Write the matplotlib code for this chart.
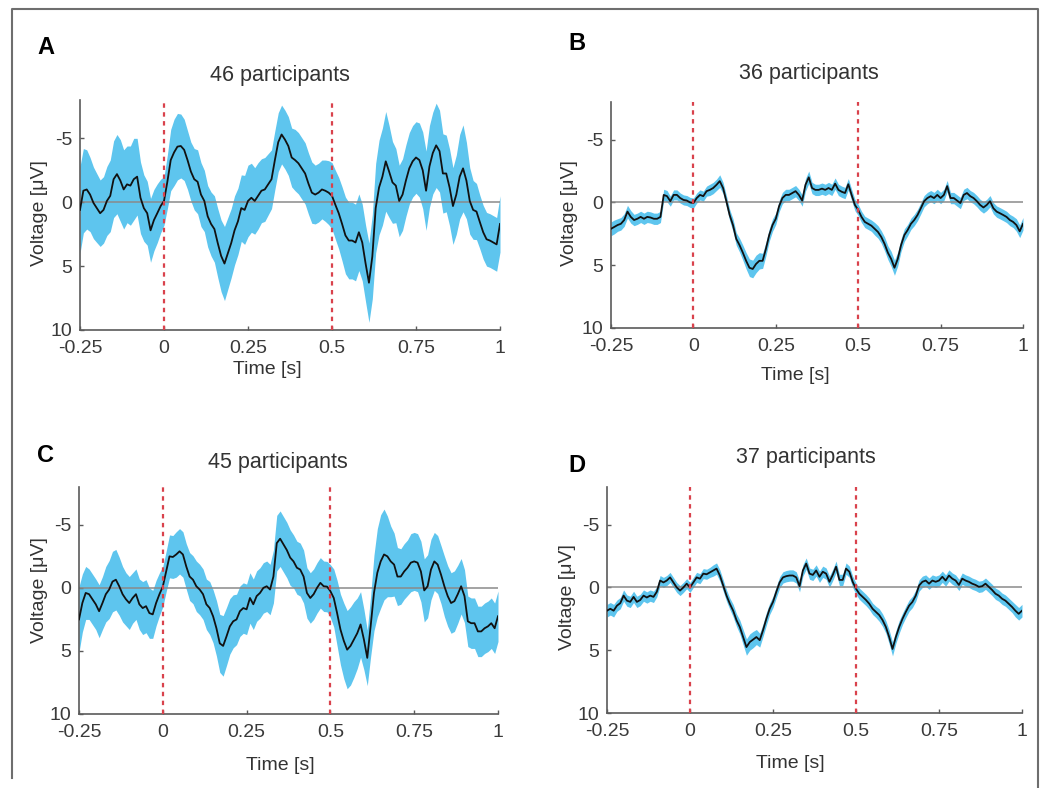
import numpy as np
import matplotlib.pyplot as plt
from matplotlib.lines import Line2D

plt.rcParams['font.family'] = ['Liberation Sans', 'DejaVu Sans']

# time axis: -0.25 .. 1.00 s in 10 ms steps
t = np.round(np.arange(-0.25, 1.0001, 0.01), 2)

# panel A (46 participants): mean voltage and half-width of shaded band
mean_a = [0.6, -0.9, -1.0, -0.6, 0.05, 0.46, 0.86, 0.6, -0.1, -0.5,
          -1.8, -2.2, -1.7, -1.0, -1.4, -1.3, -1.8, -2.0, -0.35, 0.46,
          0.86, 2.2, 1.4, 0.86, 0.3,
          -0.1, -1.6, -3.3, -3.9, -4.35, -4.4, -4.1, -3.3, -2.4, -1.8,
          -1.6, -0.6, -0.1, 1.1, 1.7, 2.1, 3.2, 4.2, 4.8, 4.0,
          3.2, 2.2, 1.5, 0.46, 0.6, -0.1, -0.35, -0.1, -0.5, -0.9,
          -1.0, -1.4, -1.8, -3.3, -4.7, -5.3, -4.9, -4.4,
          -3.5, -3.3, -3.05, -2.65, -2.25, -1.45, -0.75, -0.6, -0.75, -1.0,
          -0.9, -0.75, -0.5, 0.2, 0.86, 1.7, 2.6, 3.0, 3.0, 3.15,
          2.35, 3.15, 4.8, 6.3, 4.25, 0.46, -1.15, -2.0, -3.2, -2.4,
          -1.55, -1.3, -0.1, -0.6, -1.7, -2.65, -3.2, -3.5, -3.3, -2.5,
          -0.9, -2.8, -3.85, -4.45, -4.0, -2.25, -2.25, -1.15, 0.3, -0.6,
          -2.0, -2.65, -1.7, -0.1, 0.6, 0.73, 1.55, 2.35, 2.9, 3.0,
          3.15, 3.3, 1.7]
sem_a = [3.4, 3.3, 3.1, 2.9, 2.8, 2.7, 2.6, 2.6, 2.7, 2.8,
         3.0, 3.1, 3.2, 3.1, 3.0, 3.1, 3.2, 3.0, 2.8, 2.6,
         2.5, 2.5, 2.4, 2.3, 2.1,
         1.9, 2.1, 2.4, 2.6, 2.6, 2.5, 2.4, 2.3, 2.3, 2.4,
         2.5, 2.5, 2.4, 2.4, 2.5, 2.6, 2.7, 2.8, 2.9, 2.8,
         2.7, 2.7, 2.6, 2.6, 2.7, 2.8, 2.7, 2.6, 2.6, 2.5,
         2.5, 2.4, 2.3, 2.3, 2.3, 2.3, 2.3, 2.3,
         2.3, 2.4, 2.4, 2.4, 2.4, 2.4, 2.4, 2.3, 2.3, 2.3,
         2.4, 2.5, 2.6, 2.7, 2.8, 2.9, 3.0, 3.0, 3.0, 3.0,
         3.0, 3.0, 3.0, 3.1, 3.3, 3.5, 3.7, 3.8, 3.9, 3.6,
         3.2, 2.9, 2.8, 2.8, 2.8, 2.8, 2.8, 2.8, 2.9, 3.0,
         3.1, 3.2, 3.2, 3.3, 3.2, 3.1, 3.0, 3.0, 3.0, 3.1,
         3.3, 3.4, 3.0, 2.6, 2.3, 2.2, 2.1, 2.1, 2.1, 2.1,
         2.1, 2.1, 2.2]

# panel B (36 participants)
mean_b = [2.1, 1.95, 1.8, 1.7, 1.4, 0.73, 1.15, 1.4, 1.3, 1.15,
          1.3, 1.15, 1.2, 1.3, 1.3, 1.15, -0.6, -0.5, -0.1, -0.6,
          -0.6, -0.35, -0.2, -0.15, 0.0,
          0.05, -0.35, -0.6, -0.5, -0.9, -1.0, -1.15, -1.4, -1.7, -1.15,
          -0.1, 1.0, 1.8, 2.9, 3.4, 4.0, 4.65, 5.2, 5.3, 4.9,
          4.65, 4.65, 3.7, 2.6, 1.8, 1.3, 0.3, -0.35, -0.6, -0.6,
          -0.75, -0.9, -0.6, -0.15, -1.4, -2.0, -1.15, -1.0,
          -1.0, -1.1, -1.0, -1.15, -1.0, -1.5, -1.0, -0.85, -0.75, -1.45,
          -0.6, 0.2, 0.6, 1.15, 1.55, 1.7, 1.85, 2.1, 2.35, 2.75,
          3.3, 4.0, 4.5, 5.2, 4.5, 3.4, 2.6, 2.2, 1.7, 1.4,
          1.0, 0.46, -0.1, -0.35, -0.5, -0.35, -0.6, -0.35, -0.6, -1.3,
          -0.35, -0.35, -0.15, 0.05, -0.6, -0.75, -0.5, -0.35, -0.1, 0.2,
          0.4, 0.2, -0.1, 0.46, 0.73, 0.86, 1.0, 1.15, 1.4, 1.55,
          1.8, 2.3, 1.7]
sem_b = [0.55, 0.55, 0.5, 0.5, 0.5, 0.5, 0.5, 0.45, 0.45, 0.45,
         0.45, 0.45, 0.45, 0.45, 0.45, 0.45, 0.45, 0.45, 0.4, 0.4,
         0.4, 0.4, 0.4, 0.4, 0.4,
         0.4, 0.4, 0.4, 0.4, 0.4, 0.45, 0.45, 0.45, 0.5, 0.45,
         0.45, 0.45, 0.5, 0.5, 0.55, 0.6, 0.65, 0.7, 0.7, 0.7,
         0.65, 0.6, 0.55, 0.5, 0.5, 0.45, 0.45, 0.45, 0.45, 0.45,
         0.45, 0.45, 0.45, 0.45, 0.5, 0.5, 0.45, 0.45,
         0.45, 0.45, 0.45, 0.45, 0.45, 0.45, 0.45, 0.45, 0.45, 0.45,
         0.45, 0.45, 0.45, 0.45, 0.45, 0.45, 0.45, 0.5, 0.5, 0.5,
         0.55, 0.55, 0.6, 0.6, 0.55, 0.5, 0.5, 0.45, 0.45, 0.45,
         0.45, 0.45, 0.45, 0.45, 0.45, 0.45, 0.45, 0.45, 0.45, 0.45,
         0.45, 0.45, 0.45, 0.45, 0.45, 0.45, 0.45, 0.45, 0.45, 0.45,
         0.45, 0.45, 0.45, 0.45, 0.45, 0.45, 0.45, 0.45, 0.45, 0.45,
         0.5, 0.5, 0.5]

# panel C (45 participants)
mean_c = [2.5, 1.2, 0.4, 0.5, 0.9, 1.3, 1.85, 1.2, 0.5, 0.13,
          -0.5, -0.65, -0.13, 0.5, 0.9, 1.2, 0.8, 0.5, 1.3, 1.6,
          1.45, 2.0, 2.1, 1.2, 0.5,
          -0.1, -1.3, -2.5, -2.45, -2.65, -2.9, -2.65, -1.7, -0.9, -0.65,
          -0.13, 0.13, 0.5, 1.3, 1.6, 2.25, 3.2, 4.4, 4.6, 3.85,
          3.05, 2.65, 2.5, 1.85, 1.6, 1.7, 0.8, 1.3, 0.65, 0.4,
          0.0, -0.13, 0.13, -0.9, -3.55, -3.9, -3.45, -3.0,
          -2.4, -2.1, -1.6, -1.45, -0.9, 0.4, 0.8, 0.5, 0.0, -0.4,
          -0.13, -0.1, 0.26, 0.8, 2.0, 3.3, 4.2, 4.9, 4.6, 4.1,
          3.6, 2.9, 4.1, 5.55, 3.05, 0.4, -1.2, -2.1, -2.65, -2.5,
          -2.1, -1.85, -0.9, -0.9, -1.3, -1.6, -2.0, -2.1, -2.0, -1.3,
          0.2, -0.13, -1.45, -2.1, -1.85, -1.05, -0.13, 0.65, 1.2, 1.05,
          0.5, -0.13, 0.65, 2.65, 2.8, 2.8, 3.45, 3.45, 3.2, 3.05,
          2.8, 3.2, 2.25]
sem_c = [2.6, 2.3, 2.1, 2.0, 2.0, 2.0, 2.1, 2.1, 2.2, 2.3,
         2.4, 2.4, 2.3, 2.2, 2.1, 2.1, 2.0, 2.0, 2.0, 2.1,
         2.1, 2.0, 1.9, 1.8, 1.7,
         1.6, 1.6, 1.7, 1.7, 1.8, 1.8, 1.8, 1.8, 1.9, 1.9,
         2.0, 2.0, 2.0, 2.0, 2.1, 2.1, 2.2, 2.3, 2.4, 2.3,
         2.2, 2.1, 2.0, 2.0, 2.0, 2.0, 2.0, 2.0, 2.0, 2.0,
         2.0, 2.0, 2.0, 2.1, 2.2, 2.2, 2.2, 2.2,
         2.2, 2.1, 2.1, 2.1, 2.1, 2.0, 2.0, 2.0, 2.0, 2.0,
         2.0, 2.0, 2.1, 2.3, 2.6, 2.8, 3.0, 3.1, 3.1, 3.0,
         2.8, 2.6, 2.4, 2.2, 2.4, 3.0, 3.5, 3.7, 3.6, 3.2,
         2.8, 2.5, 2.3, 2.2, 2.2, 2.2, 2.3, 2.3, 2.3, 2.4,
         2.5, 2.5, 2.4, 2.3, 2.3, 2.3, 2.4, 2.4, 2.4, 2.4,
         2.3, 2.2, 2.1, 2.0, 2.0, 2.0, 2.0, 2.0, 2.0, 2.0,
         2.0, 2.0, 2.0]

# panel D (37 participants)
mean_d = [1.85, 1.7, 1.85, 1.45, 1.25, 0.65, 1.05, 1.15, 0.75, 1.15,
          1.0, 0.65, 0.8, 0.65, 0.75, 0.35, -0.55, -0.4, -0.55, -0.8,
          -0.4, 0.0, 0.25, 0.0, -0.3,
          0.0, -0.4, -0.8, -0.7, -1.1, -1.05, -1.2, -1.35, -1.5, -0.95,
          -0.15, 0.65, 1.3, 1.85, 2.6, 3.15, 3.95, 4.75, 4.35, 4.15,
          3.95, 4.2, 3.4, 2.5, 1.7, 1.15, 0.35, -0.4, -0.8, -0.9,
          -0.95, -0.95, -0.8, -0.1, -1.35, -1.9, -1.1, -1.0,
          -1.35, -0.85, -1.25, -1.1, -0.45, -1.0, -1.65, -0.6, -0.6, -1.5,
          -1.25, -0.45, 0.1, 0.5, 0.75, 1.0, 1.3, 1.7, 1.95, 2.2,
          2.6, 3.15, 3.95, 4.9, 3.95, 3.15, 2.5, 1.95, 1.45, 1.15,
          0.65, -0.15, -0.45, -0.55, -0.3, -0.55, -0.45, -0.55, -0.85, -0.55,
          -0.95, -0.7, -0.55, -0.2, -0.7, -0.55, -0.45, -0.3, -0.2, -0.05,
          -0.1, -0.3, -0.05, 0.2, 0.5, 0.65, 0.9, 1.05, 1.3, 1.55,
          1.85, 2.1, 1.85]
sem_d = [0.5, 0.5, 0.5, 0.45, 0.45, 0.45, 0.45, 0.45, 0.45, 0.45,
         0.45, 0.45, 0.45, 0.45, 0.45, 0.4, 0.4, 0.4, 0.4, 0.4,
         0.4, 0.4, 0.4, 0.4, 0.4,
         0.4, 0.4, 0.4, 0.4, 0.4, 0.4, 0.4, 0.45, 0.45, 0.45,
         0.45, 0.45, 0.45, 0.5, 0.5, 0.55, 0.6, 0.65, 0.65, 0.65,
         0.6, 0.55, 0.5, 0.5, 0.45, 0.45, 0.45, 0.45, 0.45, 0.45,
         0.45, 0.45, 0.45, 0.45, 0.45, 0.45, 0.45, 0.45,
         0.45, 0.45, 0.45, 0.45, 0.45, 0.45, 0.45, 0.45, 0.45, 0.45,
         0.45, 0.45, 0.45, 0.45, 0.45, 0.45, 0.45, 0.45, 0.45, 0.5,
         0.5, 0.5, 0.55, 0.55, 0.5, 0.5, 0.45, 0.45, 0.45, 0.45,
         0.45, 0.45, 0.45, 0.45, 0.45, 0.45, 0.45, 0.45, 0.45, 0.45,
         0.45, 0.45, 0.45, 0.45, 0.45, 0.45, 0.45, 0.45, 0.45, 0.45,
         0.45, 0.45, 0.45, 0.45, 0.45, 0.45, 0.45, 0.45, 0.45, 0.45,
         0.5, 0.5, 0.5]

letters = ['A', 'B', 'C', 'D']
titles = ['46 participants', '36 participants', '45 participants', '37 participants']
xticks = [-0.25, 0, 0.25, 0.5, 0.75, 1]
xticklabels = ['-0.25', '0', '0.25', '0.5', '0.75', '1']
yticks = [-5, 0, 5, 10]
yticklabels = ['-5', '0', '5', '10']
onsets = [0, 0.5]

W, H = 1050, 788
fig = plt.figure(figsize=(W / 100, H / 100), dpi=100)


def fx(x):
    return x / W


def fy(y):
    return 1 - y / H


# axes boxes in pixels: left, top, right, bottom
boxes = [(80, 100, 500, 330), (611, 102, 1023, 328),
         (79, 487, 498, 714), (607, 487, 1022, 713)]
title_pos = [(280, 75), (809, 73), (278, 463), (806, 458)]
letter_pos = [(46, 47), (577, 43), (45, 455), (577, 465)]
xlabel_pos = [(267, 369), (795, 376), (280, 766), (790, 763)]
ylabel_pos = [(39, 213), (570, 213), (40, 590), (567, 597)]

means = [mean_a, mean_b, mean_c, mean_d]
sems = [sem_a, sem_b, sem_c, sem_d]

fill_col = '#5ec5ee'
red = '#d9424c'
spine_col = '#5a5a5a'
text_col = '#333333'

for i in range(4):
    l, tp, r, b = boxes[i]
    ax = fig.add_axes([fx(l), fy(b), (r - l) / W, (b - tp) / H])
    m = np.array(means[i])
    s = np.array(sems[i])
    ax.fill_between(t, m - s, m + s, color=fill_col, lw=0, zorder=1)
    ax.axhline(0, color='#8a8a8a', lw=1.1, zorder=2)
    ax.plot(t, m, color='#111111', lw=1.3, zorder=3)
    for o in onsets:
        ax.axvline(o, color=red, lw=1.6, ls=(0, (2.0, 2.0)), zorder=4)

    ax.set_xlim(-0.25, 1.0)
    ax.set_ylim(10, -8)
    ax.set_xticks(xticks)
    ax.set_xticklabels(xticklabels)
    ax.set_yticks(yticks)
    ax.set_yticklabels(yticklabels)
    ax.tick_params(direction='in', length=3, width=1, color=spine_col,
                   labelsize=14, labelcolor='#3a3a3a')
    ax.tick_params(axis='x', pad=7.5)
    ax.tick_params(axis='y', pad=5.5)
    for side in ['top', 'right']:
        ax.spines[side].set_visible(False)
    for side in ['left', 'bottom']:
        ax.spines[side].set_color(spine_col)
        ax.spines[side].set_linewidth(1.2)

    fig.text(fx(title_pos[i][0]), fy(title_pos[i][1]), titles[i],
             ha='center', va='center', fontsize=15.5, color=text_col)
    fig.text(fx(letter_pos[i][0]), fy(letter_pos[i][1]), letters[i],
             ha='center', va='center', fontsize=17, fontweight='bold', color='black')
    fig.text(fx(xlabel_pos[i][0]), fy(xlabel_pos[i][1]), 'Time [s]',
             ha='center', va='center', fontsize=14, color=text_col)
    fig.text(fx(ylabel_pos[i][0]), fy(ylabel_pos[i][1]), 'Voltage [μV]',
             ha='center', va='center', fontsize=14, color=text_col, rotation=90)

# outer frame (left, top, right edges)
frame = Line2D([fx(12), fx(12), fx(1038), fx(1038)],
               [fy(778), fy(9), fy(9), fy(788)],
               transform=fig.transFigure, color='#6e6e6e', lw=1.5)
fig.add_artist(frame)

fig.savefig('out.png', dpi=100)
